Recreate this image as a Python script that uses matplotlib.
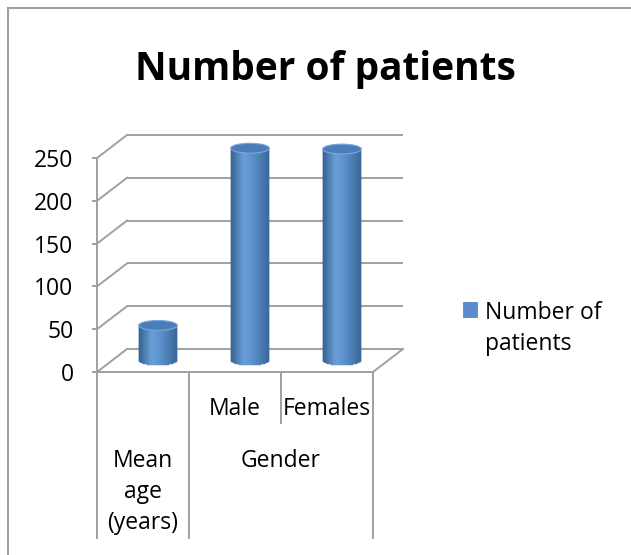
"""Excel-style 3-D cylinder chart: number of patients."""

import numpy as np
import matplotlib
matplotlib.use("Agg")
import matplotlib.pyplot as plt
import matplotlib.transforms as mtransforms
from matplotlib.patches import Rectangle, Ellipse
from matplotlib.colors import to_rgb

# ── Data ──────────────────────────────────────────────────────────────────────
CATEGORIES = ["Mean age (years)", "Male", "Females"]
VALUES     = [41, 248, 247]
GROUPS     = ["Mean\nage\n(years)", "Gender"]
SUBLABELS  = ["", "Male", "Females"]
Y_TICKS    = [0, 50, 100, 150, 200, 250]
SERIES     = "Number of\npatients"

W, H, DPI = 631, 555, 100
GRID  = "#a0a0a0"
FONT  = "Open Sans"
FS    = 16.5

plt.rcParams["font.family"] = [FONT, "DejaVu Sans"]

fig = plt.figure(figsize=(W / DPI, H / DPI), dpi=DPI)

# front plane of the 3-D box, in pixels
L, R, B, T = 97, 373, 372, 158
ax = fig.add_axes([L / W, 1 - B / H, (R - L) / W, (B - T) / H])
ax.set_xlim(0, len(VALUES))
ax.set_ylim(0, 250)
ax.patch.set_alpha(0)


def depth(frac):
    """Shift along the depth axis; frac=1 is the back wall."""
    return ax.transData + mtransforms.ScaledTranslation(
        0.30 * frac, 0.23 * frac, fig.dpi_scale_trans)


lw = 1.4
back = depth(1.0)
n = len(VALUES)
# back wall gridlines + left wall diagonals
for v in Y_TICKS:
    ax.plot([0, n], [v, v], color=GRID, lw=lw, transform=back,
            clip_on=False, zorder=1, solid_capstyle="butt")
    x0, y0 = ax.transData.transform((0, v))
    x1, y1 = back.transform((0, v))
    ax.plot([x0, x1], [y0, y1], color=GRID, lw=lw, transform=None,
            clip_on=False, zorder=1)
# right floor edge
x0, y0 = ax.transData.transform((n, 0))
x1, y1 = back.transform((n, 0))
ax.plot([x0, x1], [y0, y1], color=GRID, lw=lw, transform=None,
        clip_on=False, zorder=1)

# ── Cylinders ─────────────────────────────────────────────────────────────────
mid = depth(0.5)
cw = 0.42                       # cylinder width in category units
eh = 11.5                       # ellipse height in value units
stops = np.array([0.0, 0.35, 0.55, 1.0])
cols = np.array([to_rgb("#33608f"), to_rgb("#6a9fd9"),
                 to_rgb("#5f93cf"), to_rgb("#3a6899")])
NS = 60
for i, v in enumerate(VALUES):
    cx = i + 0.5
    edges = np.linspace(cx - cw / 2, cx + cw / 2, NS + 1)
    for k in range(NS):
        t = (k + 0.5) / NS
        c = [np.interp(t, stops, cols[:, j]) for j in range(3)]
        u = 2 * t - 1
        yb = -eh / 2 * np.sqrt(max(0.0, 1 - u * u))
        ax.add_patch(Rectangle((edges[k], yb), edges[k + 1] - edges[k],
                               v - yb, facecolor=c, edgecolor=c, lw=0.3,
                               transform=mid, clip_on=False, zorder=3))
    ax.add_patch(Ellipse((cx, v), cw, eh, facecolor="#4b7db8",
                         edgecolor="#7aa6dc", lw=0.8, transform=mid,
                         clip_on=False, zorder=4))

# ── Axes styling ──────────────────────────────────────────────────────────────
for s in ["top", "right"]:
    ax.spines[s].set_visible(False)
for s in ["left", "bottom"]:
    ax.spines[s].set_color(GRID)
    ax.spines[s].set_linewidth(lw)
    ax.spines[s].set_zorder(2)
ax.set_yticks(Y_TICKS)
ax.set_xticks([])
ax.tick_params(axis="y", direction="out", length=3.8, width=lw, color=GRID,
               labelsize=FS, pad=13)

# hierarchical category axis
xt = ax.get_xaxis_transform()
for xb, ybot in [(0, -0.776), (1, -0.776), (2, -0.238), (3, -0.776)]:
    ax.plot([xb, xb], [0, ybot], color=GRID, lw=lw, transform=xt,
            clip_on=False)
for i, lab in enumerate(SUBLABELS):
    if lab:
        ax.text(i + 0.5, -0.175, lab, transform=xt, ha="center",
                va="center", fontsize=FS)
ax.text(0.5, -0.36, GROUPS[0], transform=xt, ha="center", va="top",
        fontsize=FS, linespacing=1.4)
ax.text(2.0, -0.415, GROUPS[1], transform=xt, ha="center", va="center",
        fontsize=FS)

# ── Title, legend, chart frame ────────────────────────────────────────────────
fig.text(325 / W, 1 - 80 / H, "Number of patients", ha="center",
         va="baseline", fontsize=28, fontweight="bold")
fig.patches.append(Rectangle((463 / W, 1 - 317 / H), 14 / W, 15 / H,
                             facecolor="#5a8ccc", edgecolor="#4a7cb8",
                             lw=0.5, transform=fig.transFigure))
fig.text(485 / W, 1 - 301 / H, SERIES, ha="left", va="top",
         fontsize=FS, linespacing=1.4)
fig.patches.append(Rectangle((8 / W, -0.1), 1.2, 1.1 - 8 / H, fill=False,
                             edgecolor="#a0a0a0", lw=1.5,
                             transform=fig.transFigure))

fig.savefig("out.png", dpi=DPI)
